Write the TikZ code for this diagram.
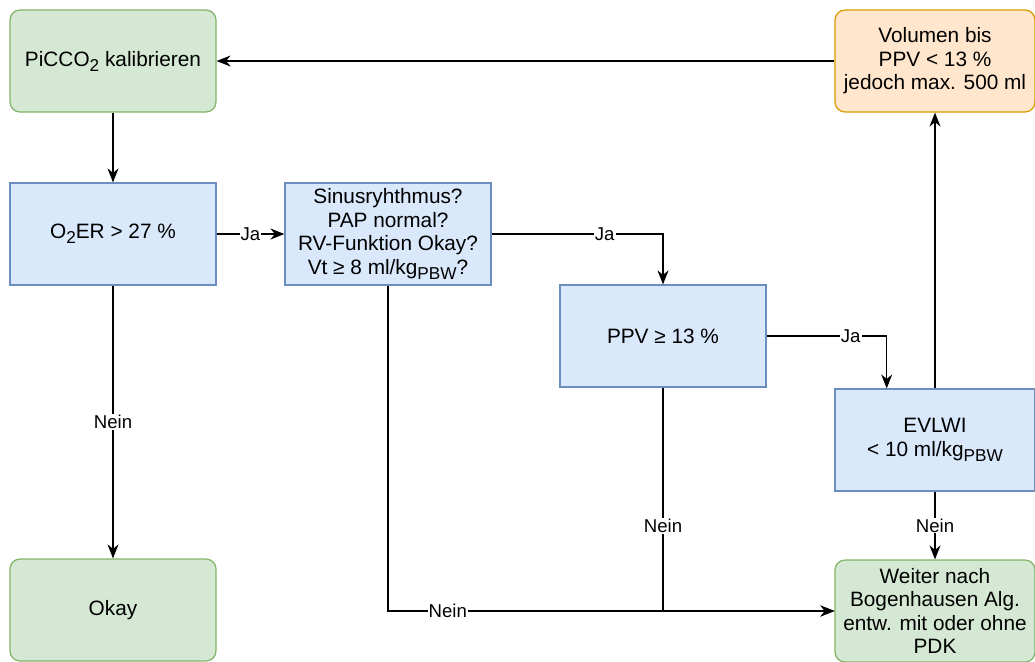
\documentclass[tikz,border=0pt]{standalone}
\usepackage{fontspec}
\setmainfont{Liberation Sans}
\usepackage{xcolor}
\usetikzlibrary{arrows.meta,positioning,calc}

\definecolor{greenfill}{HTML}{D5E8D4}
\definecolor{greenline}{HTML}{82B366}
\definecolor{bluefill}{HTML}{DAE8FC}
\definecolor{blueline}{HTML}{6C8EBF}
\definecolor{orangefill}{HTML}{FFE6CC}
\definecolor{orangeline}{HTML}{D79B00}

\newcommand{\lowtext}[1]{\raisebox{-0.45ex}{\fontsize{8.6}{9}\selectfont #1}}

\begin{document}
\begin{tikzpicture}[
  x=0.5pt, y=-0.5pt,
  box/.style={draw, line width=0.6pt, align=center, minimum width=103pt, minimum height=51pt,
    inner sep=1pt, font=\fontsize{10.4}{11.8}\selectfont},
  endbox/.style={box, rounded corners=5pt, fill=greenfill, draw=greenline},
  checkbox/.style={box, fill=bluefill, draw=blueline},
  todobox/.style={box, rounded corners=5pt, fill=orangefill, draw=orangeline},
  lbl/.style={fill=white, inner sep=0.5pt, font=\fontsize{9.3}{11}\selectfont},
  >={Stealth[length=7pt, width=5.5pt]},
  every path/.style={line width=0.75pt}
]
  \useasboundingbox (0,0) rectangle (1035,661);

  % Start / Ende
  \node[endbox] (picco) at (113,61) {PiCCO\lowtext{2} kalibrieren};
  \node[endbox] (okay) at (113,610) {Okay};
  \node[endbox, minimum width=100pt] (weiter) at (935,611) {Weiter nach\\Bogenhausen Alg.\\entw. mit oder ohne\\PDK};
  \node[todobox, minimum width=100pt] (vol) at (935,61) {Volumen bis\\PPV < 13 \%\\jedoch max. 500 ml};

  % Abfragen
  \node[checkbox] (o2er) at (113,234) {O\lowtext{2}ER > 27 \%};
  \node[checkbox] (sinus) at (388,234) {Sinusryhthmus?\\PAP normal?\\RV-Funktion Okay?\\Vt ≥ 8 ml/kg\lowtext{PBW}?};
  \node[checkbox] (ppv) at (663,336) {PPV ≥ 13 \%};
  \node[checkbox, minimum width=100pt] (evlwi) at (935,440) {EVLWI\\< 10 ml/kg\lowtext{PBW}};

  % Pfeile
  \draw[->] (vol) -- (picco);
  \draw[->] (picco) -- (o2er);
  \draw[->] (o2er) -- node[lbl] {Ja} (sinus);
  \draw[->] (sinus.east) -| node[lbl, pos=0.33] {Ja} (ppv.north);
  \draw[->] (ppv.east) -| node[lbl, pos=0.35] {Ja} ($(evlwi.north west)!0.26!(evlwi.north east)$);
  \draw[->] (evlwi) -- (vol);

  % Nein-Zweige
  \draw[->] (o2er) -- node[lbl] {Nein} (okay);
  \draw[->] (evlwi) -- node[lbl] {Nein} (weiter);
  \draw[->] (ppv.south) |- node[lbl, pos=0.31] {Nein} (weiter.west);
  \draw[->] (sinus.south) |- node[lbl, pos=0.567] {Nein} (weiter.west);
\end{tikzpicture}
\end{document}
